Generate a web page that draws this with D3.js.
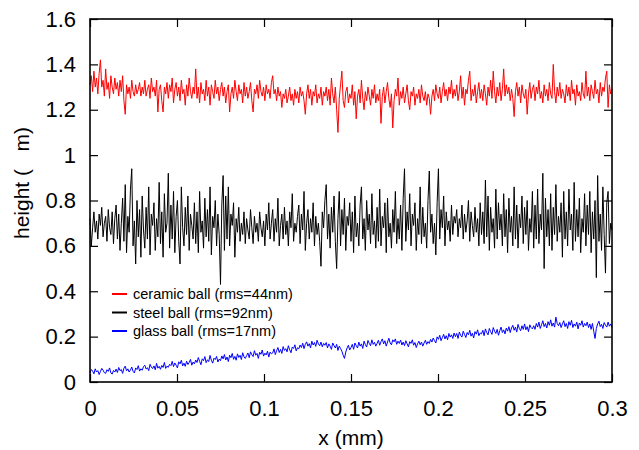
<!DOCTYPE html>
<html><head><meta charset="utf-8">
<script src="https://cdn.jsdelivr.net/npm/d3@7"></script>
<style>body{margin:0;background:#fff}svg{display:block}text{font-family:"Liberation Sans",Arial,Helvetica,sans-serif}</style>
</head><body>
<script>
const xStep = 0.00075;
const xTicks = [0, 0.05, 0.1, 0.15, 0.2, 0.25, 0.3];
const yTicks = [0, 0.2, 0.4, 0.6, 0.8, 1, 1.2, 1.4, 1.6];
const seriesNames = ["ceramic ball (rms=44nm)", "steel ball (rms=92nm)", "glass ball (rms=17nm)"];
const seriesColors = ["#ff0000", "#000000", "#0000ff"];
const ceramic = [
1.31,1.35,1.28,1.37,1.30,1.34,1.27,1.36,1.42,1.30,1.33,1.26,1.38,1.29,1.32,1.25,1.35,1.30,1.27,1.34,
1.29,1.32,1.26,1.33,1.28,1.35,1.24,1.18,1.31,1.27,1.30,1.25,1.33,1.28,1.26,1.31,1.27,1.29,1.32,1.26,
1.30,1.27,1.33,1.26,1.29,1.31,1.25,1.34,1.28,1.30,1.26,1.33,1.19,1.29,1.31,1.24,1.19,1.30,1.27,1.32,
1.25,1.31,1.28,1.34,1.23,1.29,1.32,1.26,1.30,1.24,1.33,1.27,1.29,1.22,1.31,1.26,1.34,1.28,1.25,1.30,
1.27,1.38,1.25,1.30,1.23,1.32,1.27,1.29,1.24,1.33,1.26,1.30,1.22,1.31,1.28,1.25,1.33,1.27,1.30,1.24,
1.29,1.32,1.26,1.30,1.23,1.28,1.31,1.19,1.27,1.30,1.25,1.33,1.28,1.24,1.31,1.27,1.29,1.23,1.32,1.26,
1.30,1.25,1.28,1.32,1.24,1.19,1.29,1.27,1.31,1.25,1.33,1.28,1.26,1.30,1.24,1.31,1.27,1.29,1.25,1.32,
1.35,1.27,1.29,1.24,1.30,1.26,1.28,1.21,1.27,1.25,1.29,1.23,1.26,1.30,1.24,1.27,1.22,1.29,1.25,1.28,
1.23,1.30,1.26,1.28,1.24,1.18,1.27,1.31,1.25,1.29,1.22,1.28,1.26,1.31,1.23,1.27,1.25,1.30,1.22,1.28,
1.26,1.30,1.24,1.29,1.22,1.34,1.27,1.23,1.30,1.20,1.10,1.25,1.31,1.37,1.24,1.21,1.28,1.30,1.23,1.27,
1.25,1.31,1.22,1.28,1.16,1.26,1.29,1.23,1.33,1.25,1.20,1.28,1.24,1.30,1.26,1.22,1.29,1.25,1.31,1.23,
1.27,1.24,1.29,1.14,1.26,1.30,1.23,1.28,1.32,1.25,1.21,1.27,1.12,1.24,1.29,1.26,1.34,1.22,1.28,1.25,
1.30,1.23,1.27,1.31,1.24,1.20,1.28,1.26,1.30,1.22,1.27,1.25,1.29,1.23,1.31,1.26,1.24,1.28,1.22,1.27,
1.25,1.18,1.26,1.29,1.24,1.31,1.27,1.25,1.30,1.23,1.28,1.32,1.26,1.29,1.24,1.30,1.27,1.33,1.25,1.29,
1.26,1.31,1.24,1.28,1.35,1.25,1.30,1.22,1.29,1.27,1.33,1.37,1.24,1.29,1.26,1.31,1.23,1.28,1.32,1.25,
1.29,1.24,1.31,1.27,1.22,1.30,1.26,1.33,1.25,1.37,1.28,1.23,1.30,1.26,1.32,1.24,1.29,1.38,1.26,1.31,
1.27,1.30,1.24,1.29,1.25,1.17,1.28,1.32,1.26,1.30,1.23,1.31,1.27,1.25,1.29,1.18,1.27,1.32,1.25,1.29,
1.31,1.24,1.30,1.27,1.33,1.25,1.28,1.23,1.31,1.26,1.29,1.24,1.32,1.27,1.25,1.40,1.28,1.23,1.30,1.26,
1.32,1.25,1.29,1.27,1.23,1.31,1.26,1.30,1.24,1.33,1.27,1.29,1.22,1.31,1.26,1.28,1.24,1.32,1.27,1.25,
1.37,1.26,1.30,1.24,1.31,1.28,1.25,1.33,1.27,1.29,1.23,1.32,1.26,1.30,1.28,1.34,1.37,1.21,1.31,1.27,
1.29];
const steel = [
0.72,0.60,0.68,0.75,0.66,0.71,0.63,0.74,0.69,0.77,0.64,0.70,0.73,0.62,0.76,0.68,0.65,0.75,0.61,0.72,
0.78,0.63,0.74,0.58,0.70,0.81,0.62,0.87,0.57,0.73,0.66,0.85,0.94,0.60,0.71,0.52,0.80,0.64,0.76,0.55,
0.82,0.67,0.59,0.77,0.63,0.86,0.56,0.74,0.69,0.79,0.58,0.72,0.64,0.88,0.61,0.75,0.55,0.83,0.66,0.70,
0.92,0.59,0.78,0.63,0.84,0.57,0.73,0.80,0.62,0.52,0.86,0.68,0.60,0.77,0.65,0.82,0.58,0.74,0.69,0.63,
0.79,0.61,0.75,0.57,0.84,0.66,0.71,0.59,0.81,0.64,0.76,0.62,0.86,0.56,0.73,0.68,0.80,0.60,0.74,0.65,
0.43,0.78,0.91,0.58,0.82,0.63,0.86,0.60,0.74,0.69,0.79,0.55,0.72,0.66,0.77,0.62,0.70,0.65,0.75,0.61,
0.72,0.67,0.63,0.76,0.68,0.61,0.73,0.66,0.70,0.62,0.75,0.68,0.64,0.71,0.60,0.74,0.67,0.79,0.63,0.70,
0.76,0.62,0.72,0.66,0.81,0.60,0.69,0.74,0.63,0.77,0.65,0.71,0.60,0.75,0.68,0.83,0.62,0.70,0.66,0.73,
0.78,0.61,0.74,0.67,0.84,0.58,0.70,0.76,0.63,0.72,0.66,0.79,0.60,0.73,0.65,0.70,0.62,0.51,0.75,0.68,
0.80,0.87,0.63,0.74,0.59,0.77,0.66,0.82,0.62,0.50,0.72,0.84,0.60,0.76,0.65,0.81,0.58,0.73,0.69,0.79,
0.62,0.75,0.57,0.82,0.64,0.70,0.60,0.78,0.86,0.63,0.72,0.58,0.80,0.67,0.74,0.61,0.83,0.65,0.71,0.59,
0.77,0.62,0.85,0.60,0.73,0.68,0.79,0.57,0.81,0.64,0.70,0.59,0.76,0.66,0.84,0.61,0.72,0.63,0.78,0.58,
0.81,0.94,0.62,0.75,0.67,0.83,0.60,0.74,0.69,0.79,0.58,0.72,0.65,0.86,0.61,0.77,0.64,0.70,0.59,0.80,
0.93,0.66,0.74,0.61,0.70,0.56,0.79,0.94,0.63,0.76,0.68,0.82,0.60,0.75,0.67,0.71,0.62,0.78,0.65,0.73,
0.70,0.76,0.64,0.72,0.68,0.78,0.63,0.74,0.66,0.71,0.80,0.62,0.75,0.69,0.64,0.77,0.66,0.72,0.60,0.79,
0.65,0.75,0.61,0.89,0.64,0.82,0.58,0.77,0.66,0.72,0.59,0.85,0.63,0.79,0.67,0.74,0.60,0.83,0.64,0.76,
0.57,0.81,0.66,0.73,0.60,0.86,0.63,0.78,0.59,0.74,0.68,0.82,0.61,0.77,0.65,0.80,0.58,0.72,0.66,0.84,
0.59,0.78,0.63,0.85,0.61,0.74,0.67,0.92,0.50,0.81,0.64,0.76,0.60,0.83,0.58,0.77,0.65,0.87,0.62,0.73,
0.66,0.79,0.55,0.84,0.63,0.75,0.60,0.85,0.67,0.74,0.58,0.88,0.62,0.76,0.64,0.81,0.57,0.72,0.66,0.83,
0.60,0.78,0.65,0.84,0.57,0.75,0.63,0.80,0.46,0.91,0.62,0.74,0.58,0.86,0.65,0.48,0.79,0.84,0.61,0.70,
0.67];
const glass = [
0.040,0.055,0.048,0.036,0.058,0.044,0.050,0.033,0.046,0.060,0.052,0.041,0.038,0.054,0.047,0.062,0.040,0.035,0.051,0.044,
0.057,0.042,0.064,0.050,0.055,0.038,0.061,0.070,0.049,0.058,0.044,0.053,0.066,0.047,0.040,0.062,0.055,0.072,0.048,0.058,
0.052,0.068,0.074,0.057,0.063,0.050,0.078,0.066,0.059,0.071,0.054,0.082,0.061,0.069,0.056,0.073,0.064,0.086,0.060,0.070,
0.065,0.078,0.072,0.091,0.068,0.084,0.074,0.062,0.089,0.080,0.096,0.071,0.083,0.069,0.092,0.077,0.086,0.100,0.074,0.088,
0.080,0.097,0.086,0.108,0.091,0.076,0.102,0.094,0.112,0.085,0.098,0.090,0.117,0.096,0.083,0.105,0.099,0.113,0.088,0.101,
0.094,0.115,0.102,0.121,0.097,0.110,0.090,0.118,0.107,0.126,0.100,0.113,0.096,0.124,0.108,0.118,0.099,0.129,0.111,0.104,
0.116,0.128,0.107,0.133,0.120,0.112,0.138,0.118,0.126,0.104,0.131,0.122,0.141,0.114,0.127,0.119,0.136,0.110,0.132,0.124,
0.128,0.146,0.121,0.138,0.152,0.130,0.144,0.126,0.156,0.139,0.147,0.133,0.160,0.142,0.129,0.154,0.148,0.164,0.137,0.151,
0.146,0.163,0.152,0.171,0.147,0.166,0.177,0.158,0.169,0.150,0.180,0.163,0.174,0.157,0.184,0.168,0.160,0.176,0.155,0.170,
0.162,0.174,0.150,0.168,0.158,0.144,0.172,0.160,0.150,0.166,0.139,0.158,0.148,0.136,0.118,0.104,0.132,0.150,0.162,0.141,
0.152,0.166,0.144,0.172,0.160,0.150,0.176,0.158,0.168,0.148,0.180,0.165,0.154,0.183,0.170,0.160,0.186,0.166,0.175,0.158,
0.170,0.184,0.162,0.178,0.190,0.168,0.182,0.158,0.176,0.193,0.172,0.164,0.186,0.177,0.190,0.166,0.180,0.170,0.185,0.163,
0.176,0.160,0.182,0.168,0.155,0.178,0.170,0.186,0.162,0.174,0.152,0.168,0.180,0.164,0.176,0.158,0.172,0.184,0.166,0.178,
0.170,0.188,0.176,0.194,0.182,0.172,0.199,0.188,0.206,0.182,0.196,0.210,0.190,0.204,0.186,0.214,0.198,0.208,0.192,0.216,
0.200,0.214,0.192,0.220,0.206,0.198,0.224,0.210,0.196,0.218,0.208,0.228,0.202,0.215,0.194,0.222,0.211,0.230,0.204,0.216,
0.212,0.228,0.204,0.234,0.218,0.208,0.236,0.222,0.210,0.240,0.224,0.214,0.232,0.206,0.226,0.242,0.218,0.230,0.212,0.238,
0.224,0.244,0.218,0.238,0.250,0.228,0.242,0.220,0.254,0.236,0.226,0.248,0.232,0.256,0.230,0.244,0.222,0.252,0.240,0.234,
0.248,0.232,0.258,0.242,0.264,0.236,0.252,0.270,0.244,0.258,0.238,0.266,0.250,0.274,0.246,0.260,0.242,0.286,0.258,0.248,
0.262,0.240,0.256,0.270,0.244,0.258,0.236,0.266,0.250,0.272,0.240,0.256,0.246,0.264,0.234,0.260,0.250,0.270,0.242,0.258,
0.248,0.264,0.240,0.256,0.232,0.258,0.224,0.192,0.236,0.256,0.268,0.244,0.254,0.236,0.262,0.250,0.242,0.264,0.246,0.256,
0.240];
const allSeries = [ceramic, steel, glass];

const W = 639, H = 450;
const m = {left: 90, right: 612, top: 19, bottom: 382};
const svg = d3.select("body").append("svg").attr("width", W).attr("height", H);
const x = d3.scaleLinear().domain([0, 0.3]).range([m.left, m.right]);
const y = d3.scaleLinear().domain([0, 1.6]).range([m.bottom, m.top]);

// series
const line = d3.line().x((d, i) => x(i * xStep)).y(d => y(d));
allSeries.forEach((s, k) => {
  svg.append("path").datum(s).attr("d", line)
    .attr("fill", "none").attr("stroke", seriesColors[k]).attr("stroke-width", 1)
    .attr("stroke-linejoin", "round");
});

// axes with inward ticks on all sides
const fmt = d => String(d);
const tickLen = 8;
const FS = 22;
svg.append("g").attr("transform", `translate(0,${m.bottom})`)
  .call(d3.axisBottom(x).tickValues(xTicks).tickFormat(fmt).tickSizeInner(-tickLen).tickSizeOuter(0).tickPadding(18))
  .call(g => g.select(".domain").remove())
  .call(g => g.selectAll("text").attr("font-size", FS).attr("fill", "#000").attr("font-family", "Liberation Sans, Arial, sans-serif"));
svg.append("g").attr("transform", `translate(0,${m.top})`)
  .call(d3.axisTop(x).tickValues(xTicks).tickFormat("").tickSizeInner(-tickLen).tickSizeOuter(0))
  .call(g => g.select(".domain").remove());
svg.append("g").attr("transform", `translate(${m.left},0)`)
  .call(d3.axisLeft(y).tickValues(yTicks).tickFormat(fmt).tickSizeInner(-tickLen).tickSizeOuter(0).tickPadding(14))
  .call(g => g.select(".domain").remove())
  .call(g => g.selectAll("text").attr("font-size", FS).attr("fill", "#000").attr("font-family", "Liberation Sans, Arial, sans-serif"));
svg.append("g").attr("transform", `translate(${m.right},0)`)
  .call(d3.axisRight(y).tickValues(yTicks).tickFormat("").tickSizeInner(-tickLen).tickSizeOuter(0))
  .call(g => g.select(".domain").remove());
svg.selectAll(".tick line").attr("stroke", "#000").attr("stroke-width", 1.2);

// frame
svg.append("rect").attr("x", m.left).attr("y", m.top)
  .attr("width", m.right - m.left).attr("height", m.bottom - m.top)
  .attr("fill", "none").attr("stroke", "#000").attr("stroke-width", 1.6);

// axis titles
svg.append("text").attr("x", (m.left + m.right) / 2).attr("y", 445)
  .attr("text-anchor", "middle").attr("font-size", 21).text("x (mm)");
svg.append("text").attr("transform", `translate(29,183) rotate(-90)`)
  .attr("text-anchor", "middle").attr("font-size", 21)
  .style("white-space", "pre").text("height (   m)");

// legend
const lg = svg.append("g");
seriesNames.forEach((n, k) => {
  const ly = 294 + k * 18.5;
  lg.append("line").attr("x1", 112).attr("x2", 127).attr("y1", ly).attr("y2", ly)
    .attr("stroke", seriesColors[k]).attr("stroke-width", 2);
  lg.append("text").attr("x", 133).attr("y", ly).attr("dy", "0.35em")
    .attr("font-size", 14.5).attr("fill", "#000").text(n);
});
</script>
</body></html>
